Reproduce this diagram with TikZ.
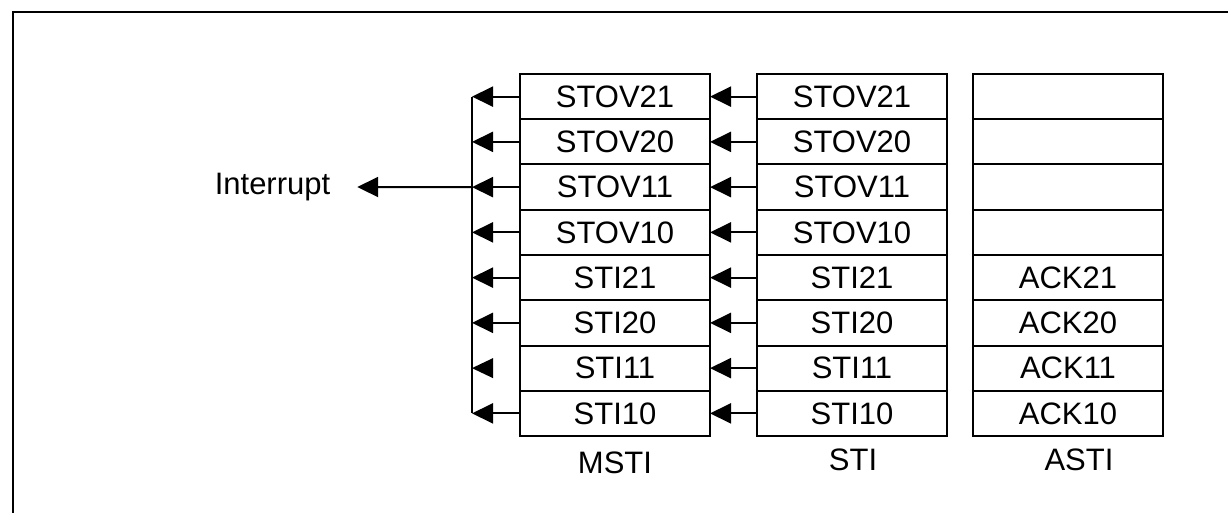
\documentclass[tikz,border=0pt]{standalone}
\usepackage{fontspec}
\setmainfont{Liberation Sans}
\usetikzlibrary{arrows.meta}
\begin{document}
\begin{tikzpicture}[x=1pt,y=-1pt, line width=2pt,
  font=\fontsize{31}{36}\selectfont,
  cell/.style={draw, minimum width=190pt, minimum height=45.25pt, inner sep=0pt, outer sep=0pt},
  arr/.style={-{Triangle[length=21pt,width=20pt]}},
  lbl/.style={inner sep=0pt}]
\useasboundingbox (0,0) rectangle (1228,513);
\draw (1228,12) -- (13,12) -- (13,513);
% MSTI and STI columns
\foreach \t [count=\i] in {STOV21,STOV20,STOV11,STOV10,STI21,STI20,STI11,STI10}{
  \node[cell] (m\i) at (615,{74+45.25*(\i-0.5)}) {\t};
  \node[cell] (s\i) at (852,{74+45.25*(\i-0.5)}) {\t};
  \coordinate (b\i) at (472,{74+45.25*(\i-0.5)});
}
% ASTI column
\foreach \t [count=\i] in {{},{},{},{},ACK21,ACK20,ACK11,ACK10}{
  \node[cell] (a\i) at (1068,{74+45.25*(\i-0.5)}) {\t};
}
% bus
\draw (b1) -- (b8);
\foreach \i in {1,2,3,4,5,6,8}{
  \draw[arr] (m\i.west) -- (b\i);
}
\fill (b7) -- ++(21,-10) -- ++(0,20) -- cycle;
\foreach \i in {1,...,8}{
  \draw[arr] (s\i.west) -- (m\i.east);
}
% interrupt
\node[lbl] (intr) at (272.5,187) {Interrupt};
\draw[arr] (b3) -- ([xshift=26pt]intr.east);
% column labels
\node[lbl] (lm) at (615,463) {MSTI};
\node[lbl] (ls) at (853,460) {STI};
\node[lbl] (la) at (1079,460) {ASTI};
\end{tikzpicture}
\end{document}
